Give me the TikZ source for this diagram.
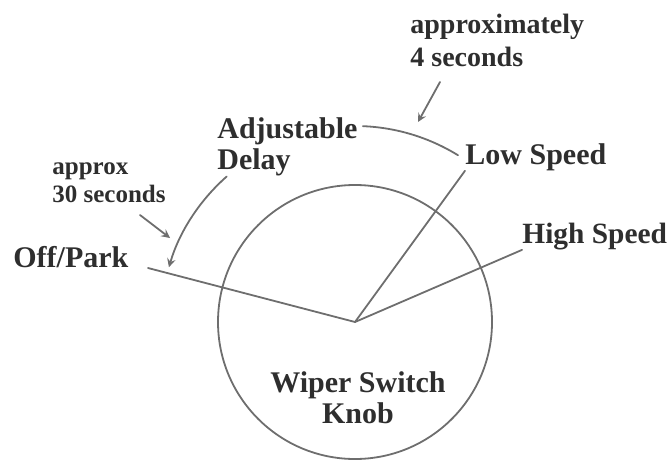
\documentclass[tikz,border=0pt]{standalone}
\usepackage{fontspec}
\setmainfont{Liberation Serif}
\definecolor{ink}{HTML}{2E2E2E}
\definecolor{wire}{HTML}{6E6E6E}

\begin{document}
\begin{tikzpicture}[
  x=0.5pt, y=0.5pt,
  line join=round, line cap=round,
  edge/.style={wire, line width=0.9pt},
  pointer/.style={wire, line width=0.9pt, ->, >=stealth},
  lbl/.style={text=ink, inner sep=0pt, font=\bfseries\fontsize{15}{15.5}\selectfont},
  note/.style={text=ink, inner sep=0pt, font=\bfseries\fontsize{14}{16.5}\selectfont},
  smallnote/.style={text=ink, inner sep=0pt, font=\bfseries\fontsize{12.5}{14}\selectfont},
]
\useasboundingbox (0,0) rectangle (672,461);

% ── the knob and its pivot ────────────────────────────────────────────────
\coordinate (hub) at (355,139);
\draw[edge] (hub) circle[radius=137];
\node[lbl, anchor=north, align=center] (knob) at (358,90) {Wiper Switch\\Knob};

% ── the switch positions ──────────────────────────────────────────────────
\node[lbl, anchor=base west] (off) at (13,194) {Off/Park};
\node[lbl, anchor=base west] (low) at (465,297) {Low Speed};
\node[lbl, anchor=base west, font=\bfseries\fontsize{14.7}{15.5}\selectfont] (high) at (522,218) {High Speed};
\node[lbl, anchor=north west, align=left] (delay) at (217,344) {Adjustable\\Delay};

\coordinate (offend) at (148,193);
\draw[edge] (hub) -- (offend);
\draw[edge] (hub) -- (low.south west);
\draw[edge] (hub) -- (high.south west);

% ── the delay range, either side of the label ─────────────────────────────
\draw[edge, ->, >=stealth] ([shift={(131.4:194)}]hub) arc[start angle=131.4, end angle=163.6, radius=194];
\draw[edge] ([shift={(87.7:196)}]hub) arc[start angle=87.7, end angle=58.3, radius=196];

% ── the two ends of the range ─────────────────────────────────────────────
\node[smallnote, anchor=north west, align=left] (slow) at (52,299) {approx\\30 seconds};
\node[note, anchor=north west, align=left] (fast) at (410,447) {approximately\\4 seconds};

\coordinate (slowtail) at (140,246);
\coordinate (slowtip) at (170,223);
\draw[pointer] (slowtail) -- (slowtip);

\coordinate (fasttail) at (440,379);
\coordinate (fasttip) at (418,339);
\draw[pointer] (fasttail) -- (fasttip);

\end{tikzpicture}
\end{document}
